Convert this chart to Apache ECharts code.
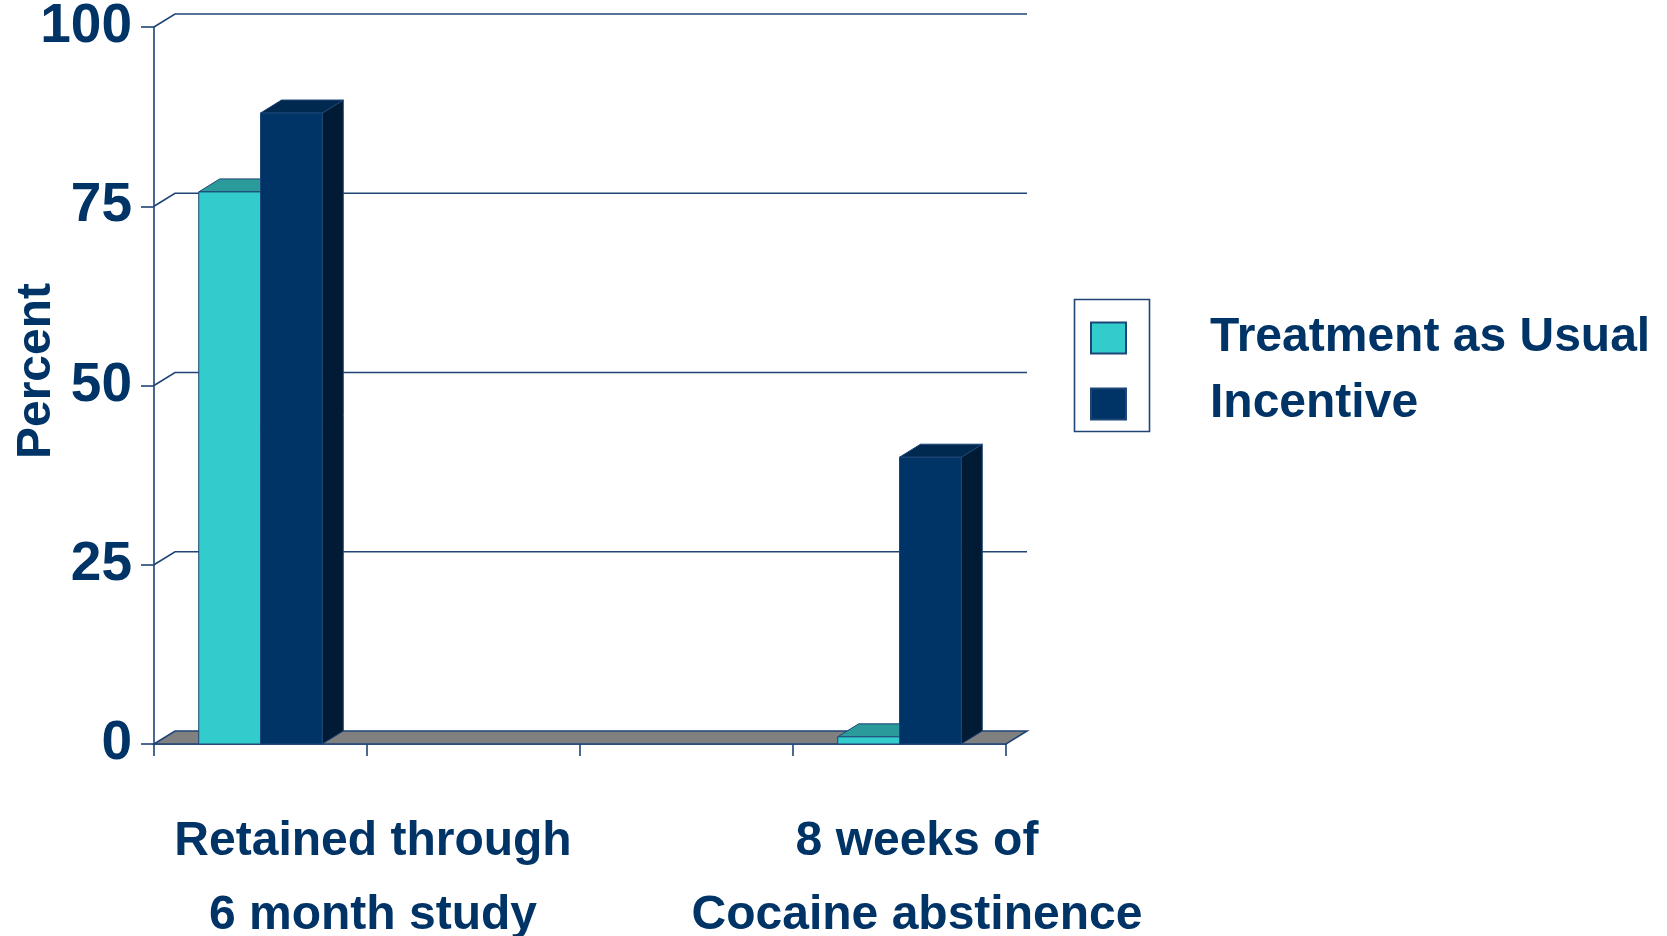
<!DOCTYPE html>
<html>
<head>
<meta charset="utf-8">
<title>Retention and abstinence</title>
<script src="https://cdn.jsdelivr.net/npm/echarts@6/dist/echarts.min.js"></script>
<style>
  html, body { margin: 0; padding: 0; background: #ffffff; }
  #chart { width: 1667px; height: 936px; }
</style>
</head>
<body>
<div id="chart"></div>
<script>
// Outcome categories (shown under the plot) and the two study arms
const categories = ['Retained through\n6 month study', '8 weeks of\nCocaine abstinence'];
const seriesNames = ['Treatment as Usual', 'Incentive'];
const treatmentAsUsual = [77, 1];
const incentive = [88, 40];
const yTicks = [0, 25, 50, 75, 100];

// The plot floor has four slots; the two outcomes sit in the first and last
const slots = [categories[0], 'slot-b', 'slot-c', categories[1]];

const FONT = '"Liberation Sans", Arial, Helvetica, sans-serif';
const NAVY = '#003366';
const LINE = '#1f4475';
const DX = 21, DY = 13;           // depth offset of the 3D look
const BAR_FRACTION = 0.29;        // width of one bar relative to a slot

const faces = {
  tau: { front: '#33CCCC', top: '#2A9A9A', side: '#1F7A7A', stroke: '#1d4577' },
  inc: { front: '#003366', top: '#00294f', side: '#001b33', stroke: '#1d4577' }
};

// Draws one box-shaped bar: front face, top face and right side face
function barRenderer(side, f) {
  return function (params, api) {
    const cat = api.value(0);
    const val = api.value(1);
    const top = api.coord([cat, val]);
    const base = api.coord([cat, 0]);
    const band = api.size([1, 0])[0];
    const w = band * BAR_FRACTION;
    const x0 = side < 0 ? top[0] - w : top[0];
    const x1 = x0 + w;
    const yt = top[1], yb = base[1];
    const st = { stroke: f.stroke, lineWidth: 1 };
    return {
      type: 'group',
      children: [
        { type: 'polygon', shape: { points: [[x1, yt], [x1 + DX, yt - DY], [x1 + DX, yb - DY], [x1, yb]] },
          style: Object.assign({ fill: f.side }, st) },
        { type: 'polygon', shape: { points: [[x0, yt], [x0 + DX, yt - DY], [x1 + DX, yt - DY], [x1, yt]] },
          style: Object.assign({ fill: f.top }, st) },
        { type: 'rect', shape: { x: x0, y: yt, width: w, height: yb - yt },
          style: Object.assign({ fill: f.front }, st) }
      ]
    };
  };
}

// Back-wall gridlines and the grey floor
function wallRenderer(params, api) {
  const cs = params.coordSys;
  const v = api.value(1);
  const y = api.coord([0, v])[1];
  const L = cs.x, R = cs.x + cs.width;
  if (v === 0) {
    return {
      type: 'polygon',
      shape: { points: [[L, y], [L + DX, y - DY], [R + DX, y - DY], [R, y]] },
      style: { fill: '#808080', stroke: LINE, lineWidth: 1.6 }
    };
  }
  return {
    type: 'polyline',
    shape: { points: [[L, y], [L + DX, y - DY], [R + DX, y - DY]] },
    style: { fill: null, stroke: LINE, lineWidth: 1.6 }
  };
}

const chart = echarts.init(document.getElementById('chart'), null, { renderer: 'canvas' });

const legendText = {
  fontSize: 48, fontWeight: 'bold', color: NAVY, fontFamily: FONT, lineHeight: 48
};

chart.setOption({
  backgroundColor: '#ffffff',
  animation: false,
  grid: [
    { left: 154, top: 27, width: 852, height: 717, outerBoundsMode: 'none' },
    { left: 101, top: 27, width: 1088, height: 717, outerBoundsMode: 'none' }
  ],
  xAxis: [
    {
      gridIndex: 0, type: 'category', data: slots, boundaryGap: true,
      axisLine: { show: true, lineStyle: { color: LINE, width: 1.6 } },
      axisTick: { show: true, length: 12, lineStyle: { color: LINE, width: 1.6 } },
      axisLabel: { show: false },
      splitLine: { show: false }
    },
    {
      gridIndex: 1, type: 'category', data: categories, boundaryGap: true,
      axisLine: { show: false }, axisTick: { show: false }, splitLine: { show: false },
      axisLabel: {
        interval: 0, margin: 61, fontSize: 48, fontWeight: 'bold', lineHeight: 74,
        color: NAVY, fontFamily: FONT, align: 'center'
      }
    }
  ],
  yAxis: [
    {
      gridIndex: 0, type: 'value', min: 0, max: 100, interval: 25,
      axisLine: { show: true, lineStyle: { color: LINE, width: 1.6 } },
      axisTick: { show: true, length: 13, lineStyle: { color: LINE, width: 1.6 } },
      axisLabel: { margin: 22, fontSize: 55, fontWeight: 'bold', color: NAVY, fontFamily: FONT },
      splitLine: { show: false }
    },
    { gridIndex: 1, type: 'value', min: 0, max: 100, show: false }
  ],
  legend: {
    data: [
      { name: seriesNames[0], textStyle: Object.assign({ padding: [0, 0, 8, 79] }, legendText) },
      { name: seriesNames[1], textStyle: Object.assign({ padding: [0, 0, 0, 79] }, legendText) }
    ],
    orient: 'vertical',
    left: 1090, top: 310,
    padding: 0,
    itemWidth: 35, itemHeight: 31, itemGap: 14,
    icon: 'rect',
    selectedMode: false,
    textStyle: legendText
  },
  graphic: [
    {
      type: 'rect', left: 1072, top: 297, z: 100,
      shape: { width: 75, height: 132 },
      style: { fill: null, stroke: LINE, lineWidth: 1.6 }
    },
    {
      type: 'text', x: 37, y: 371, rotation: Math.PI / 2, z: 100,
      style: {
        text: 'Percent', fill: NAVY, font: 'bold 48px ' + FONT,
        textAlign: 'center', textVerticalAlign: 'middle'
      }
    }
  ],
  series: [
    {
      type: 'custom', name: 'walls', xAxisIndex: 0, yAxisIndex: 0, z: 1,
      silent: true, renderItem: wallRenderer,
      data: yTicks.map(v => [0, v])
    },
    {
      type: 'custom', name: seriesNames[0], xAxisIndex: 0, yAxisIndex: 0, z: 2,
      itemStyle: { color: faces.tau.front, borderColor: faces.tau.stroke, borderWidth: 1 },
      renderItem: barRenderer(-1, faces.tau),
      data: treatmentAsUsual.map((v, i) => [categories[i], v])
    },
    {
      type: 'custom', name: seriesNames[1], xAxisIndex: 0, yAxisIndex: 0, z: 2,
      itemStyle: { color: faces.inc.front, borderColor: faces.inc.stroke, borderWidth: 1 },
      renderItem: barRenderer(1, faces.inc),
      data: incentive.map((v, i) => [categories[i], v])
    }
  ]
});
</script>
</body>
</html>
